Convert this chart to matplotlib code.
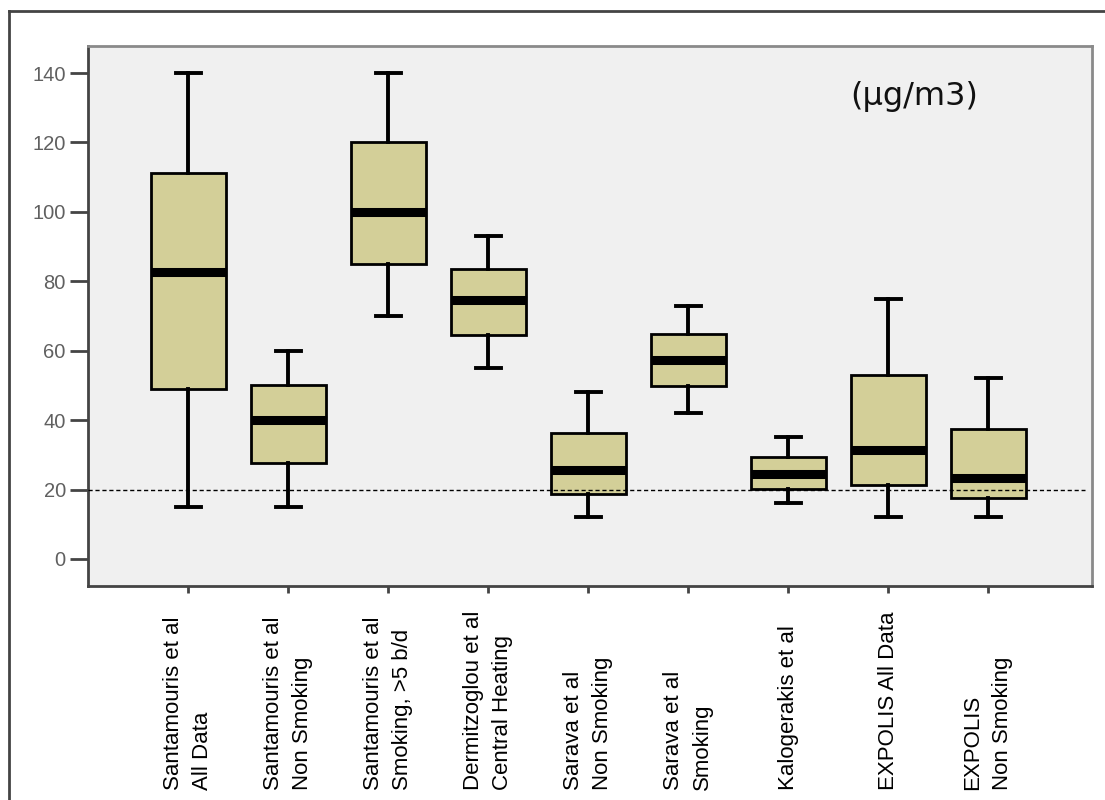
import matplotlib
matplotlib.use("Agg")
import matplotlib.pyplot as plt
from matplotlib.lines import Line2D
from matplotlib.transforms import blended_transform_factory

plt.rcParams['font.family'] = ['Liberation Sans', 'DejaVu Sans']

# PM concentrations (µg/m3) reported by each study
categories = [
    "Santamouris et al\nAll Data",
    "Santamouris et al\nNon Smoking",
    "Santamouris et al\nSmoking, >5 b/d",
    "Dermitzoglou et al\nCentral Heating",
    "Sarava et al\nNon Smoking",
    "Sarava et al\nSmoking",
    "Kalogerakis et al",
    "EXPOLIS All Data",
    "EXPOLIS\nNon Smoking",
]
whisker_low = [15, 15, 70, 55, 12, 42, 16, 12, 12]
q1 = [49, 27.7, 85, 64.5, 18.7, 49.8, 20.2, 21.3, 17.6]
median = [82.7, 40, 100, 74.6, 25.6, 57.3, 24.5, 31.4, 23.3]
q3 = [111.3, 50.1, 120, 83.5, 36.3, 64.8, 29.4, 53, 37.5]
whisker_high = [140, 60, 140, 93, 48, 73, 35, 75, 52]
reference_level = 20
y_ticks = [0, 20, 40, 60, 80, 100, 120, 140]
unit_label = "(µg/m3)"

stats = [
    dict(whislo=lo, q1=a, med=m, q3=b, whishi=hi, label=c)
    for lo, a, m, b, hi, c in zip(whisker_low, q1, median, q3, whisker_high, categories)
]
positions = list(range(1, len(categories) + 1))

fig = plt.figure(figsize=(11.05, 8.0), dpi=100)
ax = fig.add_axes([88 / 1105, 1 - 586 / 800, (1092 - 88) / 1105, (586 - 46) / 800])
ax.set_facecolor('#f0f0f0')

ax.bxp(
    stats, positions=positions, widths=0.75, capwidths=0.25,
    showfliers=False, patch_artist=True,
    boxprops=dict(facecolor='#d3cf98', edgecolor='black', linewidth=2.0),
    medianprops=dict(color='black', linewidth=6.5, solid_capstyle='butt'),
    whiskerprops=dict(color='black', linewidth=2.8),
    capprops=dict(color='black', linewidth=2.8),
)

ax.axhline(reference_level, xmin=0, xmax=0.993, color='black', linewidth=1.0,
           linestyle=(0, (3, 2)), zorder=5)

ax.set_xlim(0, 10.04)
ax.set_ylim(-7.8, 147.8)
ax.set_yticks(y_ticks)
ax.set_yticklabels([str(v) for v in y_ticks], fontsize=14.5, color='#606060')
ax.tick_params(axis='y', length=13, width=2, color='#444444', pad=3)
ax.set_xticks(positions)
ax.set_xticklabels([])
ax.tick_params(axis='x', length=5, width=2, color='#444444')

for side in ('left', 'bottom'):
    ax.spines[side].set_color('#444444')
    ax.spines[side].set_linewidth(2)
for side in ('top', 'right'):
    ax.spines[side].set_color('#8a8a8a')
    ax.spines[side].set_linewidth(2)

fig.text(914 / 1105, 1 - 96 / 800, unit_label, fontsize=23, family='DejaVu Sans',
         ha='center', va='center', color='#111111')

# rotated category labels under each box
trans = blended_transform_factory(ax.transData, fig.transFigure)
for p, c in zip(positions, categories):
    ax.text(p, 10 / 800, c, transform=trans, rotation=90, ha='center', va='bottom',
            multialignment='left', fontsize=16, linespacing=1.55, color='black',
            clip_on=False)

# outer frame (left and top edges)
fig.add_artist(Line2D([9 / 1105, 9 / 1105], [0, 1 - 11 / 800], transform=fig.transFigure,
                      color='#444444', linewidth=2))
fig.add_artist(Line2D([9 / 1105, 1], [1 - 11 / 800, 1 - 11 / 800], transform=fig.transFigure,
                      color='#444444', linewidth=2))

fig.savefig('out.png', dpi=100, facecolor='white')
